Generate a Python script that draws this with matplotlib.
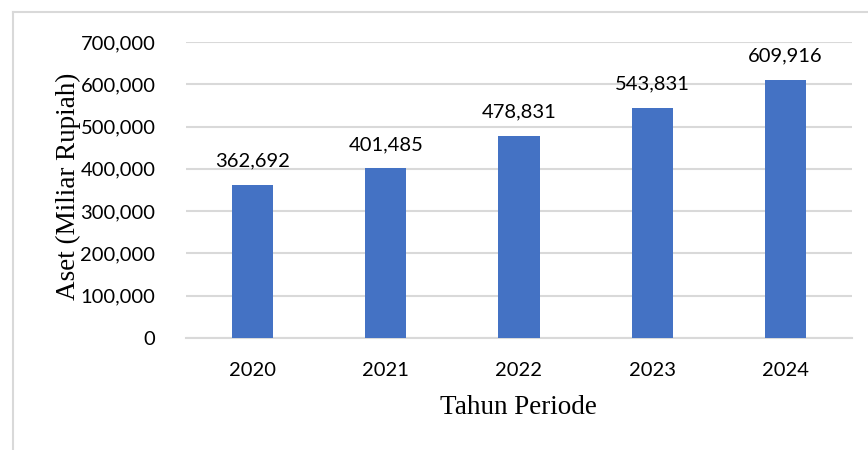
import matplotlib.pyplot as plt
from matplotlib.lines import Line2D

# data
years = ["2020", "2021", "2022", "2023", "2024"]
aset = [362692, 401485, 478831, 543831, 609916]
y_ticks = [0, 100000, 200000, 300000, 400000, 500000, 600000, 700000]

W, H = 868, 450
fig = plt.figure(figsize=(W / 100, H / 100), dpi=100)
ax = fig.add_axes([186 / W, 1 - 338 / H, (852 - 186) / W, (338 - 42) / H])

bar_color = "#4472C4"
grid_color = "#D9D9D9"
tick_font = "Lato"
label_font = "Liberation Serif"

x = range(len(years))
bars = ax.bar(x, aset, width=0.31, color=bar_color, zorder=3)

ax.set_xlim(-0.5, len(years) - 0.5)
ax.set_ylim(0, 700000)
ax.set_yticks(y_ticks)
ax.set_yticklabels(["0" if v == 0 else f"{v:,}" for v in y_ticks],
                   fontfamily=tick_font, fontsize=14.5)
ax.set_xticks(list(x))
ax.set_xticklabels(years, fontfamily=tick_font, fontsize=14.5)
ax.tick_params(length=0, pad=22, axis="y")
ax.tick_params(length=0, pad=17, axis="x")

ax.grid(axis="y", color=grid_color, linewidth=1.5, zorder=0)
for s in ["top", "right", "left"]:
    ax.spines[s].set_visible(False)
ax.spines["bottom"].set_color(grid_color)
ax.spines["bottom"].set_linewidth(1.5)

# value labels above bars
for xi, v in zip(x, aset):
    ax.annotate(f"{v:,}", (xi, v), xytext=(0, 11), textcoords="offset points",
                ha="center", va="bottom", fontfamily=tick_font, fontsize=14.5)

fig.text(68 / W, 1 - 186 / H, "Aset (Miliar Rupiah)", rotation=90,
         ha="center", va="center", fontfamily=label_font, fontsize=19.5)
fig.text(518 / W, 1 - 408 / H, "Tahun Periode",
         ha="center", va="center", fontfamily=label_font, fontsize=19.5)

# light frame around the chart (cut off at right and bottom)
fig.add_artist(Line2D([13 / W, 13 / W], [0, 1 - 12 / H], color=grid_color, linewidth=1.5))
fig.add_artist(Line2D([13 / W, 1], [1 - 12 / H, 1 - 12 / H], color=grid_color, linewidth=1.5))

fig.savefig("out.png", dpi=100)
